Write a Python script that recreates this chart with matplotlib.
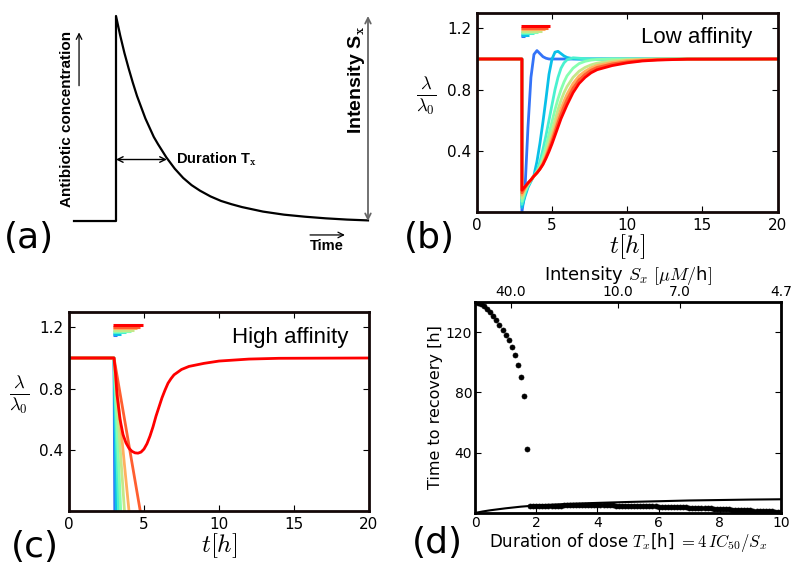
import numpy as np
import matplotlib.pyplot as plt

plt.rcParams['font.family'] = 'DejaVu Sans'
plt.rcParams['mathtext.fontset'] = 'cm'

# ---- (a) schematic dose profile (time in units of the decay time) ----
sched_t = [-1.0, 0.0, 0.0, 0.1, 0.2, 0.3, 0.4, 0.5, 0.6, 0.7, 0.8, 0.9, 1.0, 1.2, 1.4, 1.6,
           1.8, 2.0, 2.25, 2.5, 2.75, 3.0, 3.5, 4.0, 4.5, 5.0, 5.5, 6.0]
sched_c = [0.0, 0.0, 1.0, 0.905, 0.82, 0.745, 0.675, 0.61, 0.555, 0.50, 0.455, 0.41, 0.375, 0.31, 0.255, 0.21,
           0.175, 0.148, 0.12, 0.098, 0.082, 0.068, 0.046, 0.031, 0.021, 0.013, 0.007, 0.003]
duration_mark = 1.21
duration_level = 0.30

# ---- (b) low affinity: growth rate after pulses (blue = short, red = long) ----
t_b = [0, 3.0, 3.0, 3.2, 3.4, 3.6, 3.8, 4.0, 4.2, 4.4, 4.6, 4.8, 5.0, 5.2, 5.4, 5.6,
       5.8, 6.0, 6.4, 6.8, 7.2, 7.6, 8.0, 9.0, 10.0, 11.0, 12.0, 14.0, 20.0]
b_blue = [1, 1, 0.0, 0.14, 0.55, 0.88, 1.03, 1.055, 1.035, 1.015, 1.005, 1.0, 1.0, 1.0, 1.0, 1.0,
          1.0, 1.0, 1.0, 1.0, 1.0, 1.0, 1.0, 1.0, 1.0, 1.0, 1.0, 1.0, 1.0]
b_cyan = [1, 1, 0.03, 0.10, 0.16, 0.20, 0.24, 0.33, 0.45, 0.59, 0.74, 0.90, 1.00, 1.045, 1.05, 1.035,
          1.02, 1.01, 1.002, 1.0, 1.0, 1.0, 1.0, 1.0, 1.0, 1.0, 1.0, 1.0, 1.0]
b_aqua = [1, 1, 0.05, 0.12, 0.17, 0.205, 0.235, 0.27, 0.33, 0.41, 0.50, 0.60, 0.70, 0.80, 0.88, 0.94,
          0.975, 0.995, 1.008, 1.005, 1.002, 1.0, 1.0, 1.0, 1.0, 1.0, 1.0, 1.0, 1.0]
b_green = [1, 1, 0.07, 0.135, 0.175, 0.208, 0.235, 0.26, 0.30, 0.36, 0.43, 0.51, 0.59, 0.67, 0.74, 0.80,
           0.85, 0.89, 0.94, 0.97, 0.985, 0.993, 0.997, 1.0, 1.0, 1.0, 1.0, 1.0, 1.0]
b_yellow = [1, 1, 0.09, 0.145, 0.18, 0.21, 0.235, 0.26, 0.29, 0.335, 0.39, 0.46, 0.53, 0.60, 0.67, 0.73,
            0.78, 0.82, 0.88, 0.92, 0.945, 0.962, 0.973, 0.988, 0.995, 0.998, 1.0, 1.0, 1.0]
b_orange = [1, 1, 0.11, 0.155, 0.185, 0.21, 0.235, 0.258, 0.285, 0.32, 0.37, 0.43, 0.49, 0.55, 0.615, 0.675,
            0.725, 0.77, 0.84, 0.89, 0.92, 0.943, 0.958, 0.978, 0.99, 0.995, 0.998, 1.0, 1.0]
b_redorange = [1, 1, 0.125, 0.16, 0.188, 0.21, 0.235, 0.256, 0.282, 0.315, 0.36, 0.41, 0.465, 0.525, 0.585, 0.64,
               0.69, 0.735, 0.81, 0.865, 0.90, 0.927, 0.945, 0.968, 0.982, 0.99, 0.995, 0.999, 1.0]
b_red = [1, 1, 0.142, 0.165, 0.19, 0.21, 0.235, 0.255, 0.28, 0.31, 0.35, 0.395, 0.445, 0.50, 0.555, 0.61,
         0.655, 0.70, 0.78, 0.84, 0.88, 0.91, 0.93, 0.957, 0.975, 0.987, 0.993, 0.999, 1.0]

# ---- (c) high affinity: only the longest pulse recovers ----
t_c = [0, 3.0, 3.1, 3.2, 3.4, 3.6, 3.8, 4.0, 4.2, 4.4, 4.6, 4.8, 5.0, 5.2, 5.4, 5.6, 5.8, 6.0,
       6.2, 6.4, 6.6, 6.8, 7.0, 7.5, 8.0, 9.0, 10.0, 12.0, 14.0, 20.0]
c_red = [1.0, 1.0, 0.9, 0.76, 0.6, 0.5, 0.445, 0.41, 0.39, 0.38, 0.378, 0.385, 0.405, 0.44, 0.49, 0.55, 0.62, 0.68,
         0.74, 0.79, 0.835, 0.865, 0.89, 0.925, 0.945, 0.965, 0.98, 0.993, 0.998, 1.0]
c_collapse = [3.05, 3.15, 3.3, 3.45, 3.7, 4.0, 4.75]   # time where growth hits zero
t_pulse_start = 3.0

# pulse duration markers drawn above the curves
pulse_end = [3.2, 3.45, 3.8, 4.1, 4.35, 4.55, 4.75, 4.9]
pulse_level = [1.150, 1.159, 1.168, 1.177, 1.186, 1.195, 1.205, 1.215]

# ---- (d) time to recovery vs duration of dose ----
tx_upper = [0.0, 0.1, 0.2, 0.3, 0.4, 0.5, 0.6, 0.7, 0.8, 0.9, 1.0, 1.1, 1.2, 1.3, 1.4, 1.5, 1.6, 1.7]
rec_upper = [140.0, 139.4, 138.4, 137.0, 135.3, 133.3, 131.0, 128.0, 124.5, 121.3, 118.0, 114.5,
             110.0, 105.0, 98.5, 90.5, 77.5, 42.5]
tx_lower = np.round(np.arange(1.8, 10.01, 0.1), 1)
rec_lower = [4.4, 4.5, 4.6,
             4.6, 4.7, 4.7, 4.8, 4.8, 4.9, 4.9, 4.9, 5.0, 5.0,
             5.0, 5.0, 5.0, 5.1, 5.1, 5.1, 5.1, 5.1, 5.1, 5.1,
             5.0, 5.0, 5.0, 5.0, 5.0, 4.9, 4.9, 4.9, 4.8, 4.8,
             4.8, 4.7, 4.7, 4.6, 4.6, 4.5, 4.5, 4.4, 4.4, 4.3,
             4.3, 4.2, 4.1, 4.1, 4.0, 3.9, 3.9, 3.8, 3.7, 3.6,
             3.6, 3.5, 3.4, 3.3, 3.2, 3.1, 3.0, 2.9, 2.8, 2.7,
             2.6, 2.5, 2.4, 2.3, 2.2, 2.1, 2.0, 1.9, 1.8, 1.7,
             1.6, 1.5, 1.4, 1.3, 1.2, 1.1, 1.0, 0.9, 0.8, 0.7]
line_tx = [0, 0.25, 0.5, 1.0, 1.5, 2.0, 3.0, 4.0, 5.0, 6.0, 7.0, 8.0, 9.0, 10.0]
line_rec = [0, 1.0, 1.8, 3.1, 4.2, 5.0, 6.0, 6.7, 7.3, 7.8, 8.3, 8.6, 8.9, 9.1]
intensity_ticks = [40.0, 10.0, 7.0, 4.68]
dose_const = 46.8   # 4 * IC50

colors = plt.cm.rainbow(np.linspace(0.15, 1.0, 8))

fig = plt.figure(figsize=(8, 5.85), dpi=100)

# ---------------- (a) ----------------
ax_a = fig.add_axes([0, 0.5556, 0.5, 0.4444])
ax_a.set_xlim(-2.762, 6.762)
ax_a.set_ylim(-0.190, 1.078)
ax_a.axis('off')
ax_a.plot(sched_t, sched_c, color='black', lw=1.6)
ax_a.annotate('', xy=(duration_mark, duration_level), xytext=(0, duration_level),
              arrowprops=dict(arrowstyle='<->', lw=1.0, color='black', shrinkA=0, shrinkB=0))
ax_a.text(1.43, duration_level, 'Duration T$_\\mathbf{x}$', fontsize=10.5, fontweight='bold',
          family='Liberation Sans', va='center', ha='left')
ax_a.annotate('', xy=(6.0, 1.0), xytext=(6.0, 0.0),
              arrowprops=dict(arrowstyle='<->', lw=1.3, color='#666666', shrinkA=0, shrinkB=0))
ax_a.text(5.72, 0.69, 'Intensity S$_\\mathbf{x}$', rotation=90, fontsize=14, fontweight='bold',
          family='Liberation Sans', va='center', ha='center')
ax_a.text(-1.17, 0.50, 'Antibiotic concentration', rotation=90, fontsize=11, fontweight='bold',
          family='Liberation Sans', va='center', ha='center')
ax_a.annotate('', xy=(-0.88, 0.92), xytext=(-0.88, 0.66),
              arrowprops=dict(arrowstyle='->', lw=0.9, color='black', shrinkA=0, shrinkB=0))
ax_a.annotate('', xy=(5.45, -0.068), xytext=(4.62, -0.068),
              arrowprops=dict(arrowstyle='->', lw=0.9, color='black', shrinkA=0, shrinkB=0))
ax_a.text(5.03, -0.12, 'Time', fontsize=10.5, fontweight='bold', family='Liberation Sans',
          va='center', ha='center')


def style_growth_axes(ax):
    ax.set_xlim(0, 20)
    ax.set_ylim(0, 1.3)
    ax.set_xticks([0, 5, 10, 15, 20])
    ax.set_yticks([0.4, 0.8, 1.2])
    ax.set_yticklabels(['0.4', '0.8', '1.2'])
    ax.tick_params(direction='in', top=True, right=True, length=4, labelsize=11, pad=4)
    for s in ax.spines.values():
        s.set_linewidth(2)
        s.set_color('#140808')
    ax.set_xlabel('$t[h]$', fontsize=18, labelpad=0)
    ax.set_ylabel(r'$\frac{\lambda}{\lambda_0}$', fontsize=19, rotation=0)
    ax.yaxis.set_label_coords(-0.167, 0.48)
    for end, lev, col in zip(pulse_end, pulse_level, colors):
        ax.plot([t_pulse_start - 0.05, end], [lev, lev], color=col, lw=2.2, solid_capstyle='butt')


# ---------------- (b) ----------------
ax_b = fig.add_axes([0.596, 0.6376, 0.376, 0.340])
b_curves = [b_blue, b_cyan, b_aqua, b_green, b_yellow, b_orange, b_redorange, b_red]
for vals, col in zip(b_curves, colors):
    ax_b.plot(t_b, vals, color=col, lw=2)
style_growth_axes(ax_b)
ax_b.text(0.915, 0.879, 'Low affinity', transform=ax_b.transAxes, fontsize=16,
          family='Liberation Sans', ha='right', va='center')

# ---------------- (c) ----------------
ax_c = fig.add_axes([0.08625, 0.1265, 0.375, 0.340])
for end, col in zip(c_collapse, colors[:7]):
    ax_c.plot([0, t_pulse_start, end], [1.0, 1.0, 0.0], color=col, lw=2)
ax_c.plot(t_c, c_red, color=colors[7], lw=2)
style_growth_axes(ax_c)
ax_c.text(0.93, 0.874, 'High affinity', transform=ax_c.transAxes, fontsize=16,
          family='Liberation Sans', ha='right', va='center')

# ---------------- (d) ----------------
ax_d = fig.add_axes([0.59375, 0.1231, 0.3825, 0.3607])
ax_d.plot(tx_upper, rec_upper, 'o', color='black', ms=3.6, mew=0.5)
ax_d.plot(tx_lower, rec_lower, 'o', color='black', ms=3.6, mew=0.5)
ax_d.plot(line_tx, line_rec, color='black', lw=1.5)
ax_d.set_xlim(0, 10)
ax_d.set_ylim(0, 140)
ax_d.set_xticks([0, 2, 4, 6, 8, 10])
ax_d.set_yticks([40, 80, 120])
ax_d.tick_params(direction='in', right=True, length=4, labelsize=10, pad=2)
for s in ax_d.spines.values():
    s.set_linewidth(2)
ax_d.set_ylabel('Time to recovery [h]', fontsize=11.5, labelpad=2)
ax_d.set_xlabel('Duration of dose $T_x$[h] $= 4\\,IC_{50}/S_x$', fontsize=12, labelpad=1)

ax_top = ax_d.twiny()
ax_top.set_xlim(0, 10)
ax_top.set_xticks([dose_const / s for s in intensity_ticks])
ax_top.set_xticklabels(['%.1f' % s for s in intensity_ticks])
ax_top.tick_params(direction='in', length=4, labelsize=10, pad=2)
ax_top.set_xlabel('Intensity $S_x$ $[\\mu M/$h$]$', fontsize=13, labelpad=4)

# panel letters
fig.text(4 / 800, 0.593, '(a)', fontsize=26, va='center', ha='left')
fig.text(404 / 800, 0.593, '(b)', fontsize=26, va='center', ha='left')
fig.text(11 / 800, 0.065, '(c)', fontsize=26, va='center', ha='left')
fig.text(412 / 800, 0.072, '(d)', fontsize=26, va='center', ha='left')

fig.savefig('out.png', dpi=100)
